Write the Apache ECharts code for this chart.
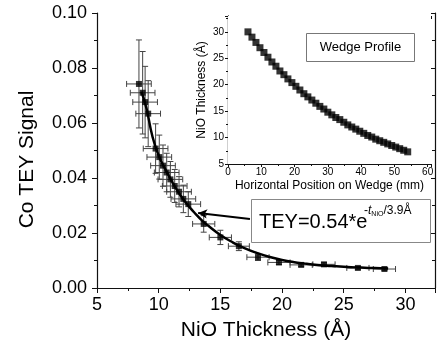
<!DOCTYPE html>
<html>
<head>
    <meta charset="UTF-8">
    <title>Co TEY vs NiO thickness</title>
    <script src="https://cdn.jsdelivr.net/npm/echarts@6/dist/echarts.min.js"></script>
    <style>
        html, body { margin: 0; padding: 0; background: #fff; }
    </style>
</head>
<body>
<div id="main" style="width: 437px;height:351px;"></div>
<script>
    // main panel: Co TEY signal vs NiO thickness
    var thick = [8.4, 8.7, 8.9, 9.15, 9.75, 10.05, 10.35, 10.65, 10.95, 11.3, 11.65, 12.0, 12.4,
        13.65, 15.0, 16.5, 18.05, 19.75, 21.55, 23.4, 26.15, 28.3];
    var tey = [0.0742, 0.0710, 0.0676, 0.0634, 0.0507, 0.0476, 0.0445, 0.0420, 0.0395, 0.0371, 0.0350, 0.0324, 0.0305,
        0.0233, 0.0184, 0.0152, 0.0112, 0.0093, 0.0084, 0.0086, 0.0073, 0.0069];
    var thickErr = [1.0, 1.0, 1.0, 1.0, 1.0, 1.0, 1.0, 1.0, 1.0, 1.0, 1.0, 1.0, 1.0,
        0.9, 0.9, 0.85, 0.9, 0.9, 0.9, 0.9, 0.9, 0.9];
    var teyErr = [0.016, 0.015, 0.013, 0.012, 0.009, 0.008, 0.0075, 0.007, 0.0065, 0.006, 0.0055, 0.005, 0.0045,
        0.003, 0.0026, 0.0016, 0.0012, 0.0008, 0.0006, 0.0006, 0.0005, 0.0005];

    // fit curve
    var fitX = [8.6, 9.0, 9.5, 10.0, 10.5, 11.0, 11.5, 12.0, 12.5, 13.0, 13.5, 14.0, 15.0, 16.0, 17.0,
        18.0, 19.0, 20.0, 21.0, 22.0, 23.0, 24.0, 25.0, 26.0, 27.0, 28.0, 28.6];
    var fitY = [0.0714, 0.0655, 0.0550, 0.0482, 0.0435, 0.0393, 0.0355, 0.0322, 0.0294, 0.0269, 0.0246, 0.0227,
        0.0193, 0.0166, 0.0144, 0.0127, 0.0113, 0.0102, 0.0094, 0.0088, 0.0083, 0.0080, 0.0077, 0.0075,
        0.0073, 0.0072, 0.0071];

    // inset: wedge profile
    var wedgePos = [6, 7.2, 8.4, 9.6, 10.8, 12, 13.2, 14.4, 15.6, 16.8, 18, 19.2, 20.4, 21.6, 22.8, 24, 25.2,
        26.4, 27.6, 28.8, 30, 31.2, 32.4, 33.6, 34.8, 36, 37.2, 38.4, 39.6, 40.8, 42, 43.2, 44.4, 45.6,
        46.8, 48, 49.2, 50.4, 51.6, 52.8, 54];
    var wedgeThick = [30.0, 29.0, 28.0, 27.0, 26.1, 25.2, 24.3, 23.5, 22.6, 21.9, 21.1, 20.4, 19.7, 19.0,
        18.3, 17.7, 17.1, 16.5, 15.9, 15.4, 14.8, 14.3, 13.8, 13.4, 12.9, 12.4, 12.0, 11.6, 11.2, 10.8,
        10.4, 10.1, 9.7, 9.4, 9.1, 8.8, 8.5, 8.2, 7.9, 7.6, 7.3];

    // arrow from the formula box to the curve
    var arrowFrom = [17.4, 0.0251];
    var arrowTo = [13.2, 0.0273];

    var font = 'Liberation Sans, Arial, Helvetica, sans-serif';
    var ink = '#111';

    function pairs(a, b) {
        return a.map(function (v, i) { return [v, b[i]]; });
    }

    var errData = thick.map(function (v, i) {
        return [v, tey[i], thickErr[i], teyErr[i]];
    });

    function renderErr(params, api) {
        var x = api.value(0), y = api.value(1), dx = api.value(2), dy = api.value(3);
        var l = api.coord([x - dx, y]), r = api.coord([x + dx, y]);
        var b = api.coord([x, y - dy]), t = api.coord([x, y + dy]);
        var c = 3;
        var st = { stroke: '#444', lineWidth: 1 };
        function seg(x1, y1, x2, y2) {
            return { type: 'line', shape: { x1: x1, y1: y1, x2: x2, y2: y2 }, style: st };
        }
        return {
            type: 'group',
            children: [
                seg(l[0], l[1], r[0], r[1]),
                seg(l[0], l[1] - c, l[0], l[1] + c),
                seg(r[0], r[1] - c, r[0], r[1] + c),
                seg(t[0], t[1], b[0], b[1]),
                seg(t[0] - c, t[1], t[0] + c, t[1]),
                seg(b[0] - c, b[1], b[0] + c, b[1])
            ]
        };
    }

    function hideOff(step) {
        return function (v) {
            return Math.abs(v / step - Math.round(v / step)) < 1e-6 ? String(Math.round(v)) : '';
        };
    }

    var lineSt = { show: true, lineStyle: { color: ink, width: 1.2 } };

    var myChart = echarts.init(document.getElementById('main'));
    var option = {
        animation: false,
        textStyle: { fontFamily: font },
        grid: [
            { left: 97, top: 13, right: 2, bottom: 63 },
            { left: 228, top: 16, width: 203, height: 148, show: true, backgroundColor: '#fff', borderWidth: 0, z: 5 }
        ],
        xAxis: [
            {
                gridIndex: 0, type: 'value', min: 5, max: 32.4, interval: 5, position: 'bottom',
                axisLine: lineSt,
                axisTick: { show: true, length: 5, lineStyle: { color: ink } },
                minorTick: { show: true, splitNumber: 2, length: 3, lineStyle: { color: ink } },
                splitLine: { show: false },
                axisLabel: { color: '#000', fontSize: 18, margin: 8, formatter: hideOff(5), showMaxLabel: false },
                name: 'NiO Thickness (Å)', nameLocation: 'middle', nameGap: 32,
                nameTextStyle: { color: '#000', fontSize: 21 }
            },
            {
                gridIndex: 0, type: 'value', min: 5, max: 32.4, interval: 5, position: 'top',
                axisLine: lineSt,
                axisTick: { show: true, inside: true, length: 4, lineStyle: { color: ink } },
                minorTick: { show: true, splitNumber: 2, length: 3, lineStyle: { color: ink } },
                splitLine: { show: false }, axisLabel: { show: false }
            },
            {
                gridIndex: 1, type: 'value', min: 0, max: 61, interval: 10, position: 'bottom',
                axisLine: lineSt,
                axisTick: { show: true, length: 3, lineStyle: { color: ink } },
                minorTick: { show: true, splitNumber: 2, length: 2, lineStyle: { color: ink } },
                splitLine: { show: false },
                axisLabel: { color: '#000', fontSize: 10, margin: 3, formatter: hideOff(10), showMaxLabel: false },
                name: 'Horizontal Position on Wedge (mm)', nameLocation: 'middle', nameGap: 16,
                nameTextStyle: { color: '#000', fontSize: 12 }
            },
            {
                gridIndex: 1, type: 'value', min: 0, max: 61, interval: 10, position: 'top',
                axisLine: lineSt,
                axisTick: { show: true, inside: true, length: 3, lineStyle: { color: ink } },
                minorTick: { show: true, splitNumber: 2, length: 2, lineStyle: { color: ink } },
                splitLine: { show: false }, axisLabel: { show: false }
            }
        ],
        yAxis: [
            {
                gridIndex: 0, type: 'value', min: 0, max: 0.1, interval: 0.02, position: 'left',
                axisLine: lineSt,
                axisTick: { show: true, length: 5, lineStyle: { color: ink } },
                minorTick: { show: true, splitNumber: 2, length: 3, lineStyle: { color: ink } },
                splitLine: { show: false },
                axisLabel: { color: '#000', fontSize: 18, margin: 10, formatter: function (v) { return v.toFixed(2); } },
                name: 'Co TEY Signal', nameLocation: 'middle', nameGap: 59,
                nameTextStyle: { color: '#000', fontSize: 21, padding: [0, 18, 0, 0] }
            },
            {
                gridIndex: 0, type: 'value', min: 0, max: 0.1, interval: 0.02, position: 'right',
                axisLine: lineSt,
                axisTick: { show: true, inside: true, length: 4, lineStyle: { color: ink } },
                minorTick: { show: true, splitNumber: 2, length: 3, lineStyle: { color: ink } },
                splitLine: { show: false }, axisLabel: { show: false }
            },
            {
                gridIndex: 1, type: 'value', min: 5, max: 33, interval: 5, position: 'left',
                axisLine: lineSt,
                axisTick: { show: true, length: 3, lineStyle: { color: ink } },
                minorTick: { show: true, splitNumber: 2, length: 2, lineStyle: { color: ink } },
                splitLine: { show: false },
                axisLabel: { color: '#000', fontSize: 10, margin: 4, formatter: hideOff(5), showMaxLabel: false },
                name: 'NiO Thickness (Å)', nameLocation: 'middle', nameGap: 20,
                nameTextStyle: { color: '#000', fontSize: 12 }
            },
            {
                gridIndex: 1, type: 'value', min: 5, max: 33, interval: 5, position: 'right',
                axisLine: lineSt,
                axisTick: { show: true, inside: true, length: 3, lineStyle: { color: ink } },
                minorTick: { show: true, splitNumber: 2, length: 2, lineStyle: { color: ink } },
                splitLine: { show: false }, axisLabel: { show: false }
            }
        ],
        series: [
            {
                name: 'err', type: 'custom', xAxisIndex: 0, yAxisIndex: 0,
                renderItem: renderErr, data: errData, z: 2, silent: true
            },
            {
                name: 'fit', type: 'line', xAxisIndex: 0, yAxisIndex: 0, smooth: true,
                showSymbol: false, data: pairs(fitX, fitY), z: 3,
                lineStyle: { color: '#000', width: 2.5 },
                markLine: {
                    silent: true, symbol: ['none', 'arrow'], symbolSize: [7, 9],
                    label: { show: false },
                    lineStyle: { color: '#000', width: 2, type: 'solid' },
                    data: [[{ coord: arrowFrom }, { coord: arrowTo }]]
                }
            },
            {
                name: 'TEY', type: 'scatter', xAxisIndex: 0, yAxisIndex: 0,
                symbol: 'rect', symbolSize: 6, data: pairs(thick, tey), z: 4,
                itemStyle: { color: '#000' }
            },
            {
                name: 'wedge', type: 'scatter', xAxisIndex: 2, yAxisIndex: 2,
                symbol: 'rect', symbolSize: 7, data: pairs(wedgePos, wedgeThick), z: 6,
                itemStyle: { color: '#000' }
            }
        ],
        graphic: [
            {
                type: 'rect', z: 10, shape: { x: 306.5, y: 33.5, width: 108, height: 28 },
                style: { fill: '#fff', stroke: '#777', lineWidth: 1 }
            },
            {
                type: 'text', z: 11, x: 360.5, y: 47.5,
                style: { text: 'Wedge Profile', fontFamily: font, fontSize: 13, fill: '#000', align: 'center', verticalAlign: 'middle' }
            },
            {
                type: 'rect', z: 10, shape: { x: 251.5, y: 199.5, width: 179, height: 43 },
                style: { fill: '#fff', stroke: '#888', lineWidth: 1 }
            },
            {
                type: 'text', z: 11, x: 259, y: 222,
                style: { text: 'TEY=0.54*e', fontFamily: font, fontSize: 20, fill: '#000', align: 'left', verticalAlign: 'middle' }
            },
            {
                type: 'text', z: 11, x: 364, y: 211,
                style: {
                    text: '{n|-}{i|t}{s|NiO}{n|/3.9Å}', fontFamily: font, fill: '#000',
                    align: 'left', verticalAlign: 'middle',
                    rich: {
                        n: { fontSize: 12, fontFamily: font },
                        i: { fontSize: 12, fontFamily: font, fontStyle: 'italic' },
                        s: { fontSize: 7, fontFamily: font, verticalAlign: 'bottom', padding: [6, 0, 0, 0] }
                    }
                }
            }
        ]
    };

    myChart.setOption(option);
</script>
</body>
</html>
